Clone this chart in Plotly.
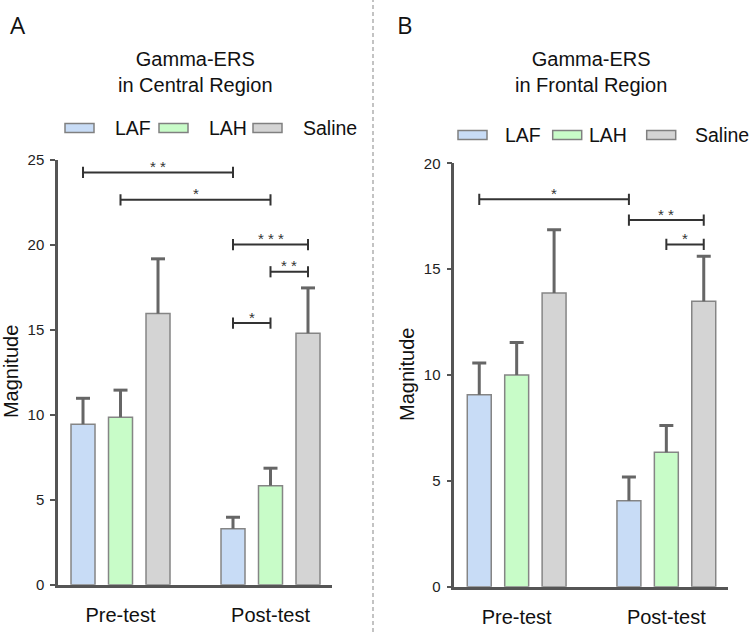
import plotly.graph_objects as go

W, H = 749, 632

groups = ["Pre-test", "Post-test"]
series = ["LAF", "LAH", "Saline"]
colors = ["#c8dcf6", "#c8fcc8", "#d4d4d4"]

# Panel A: Gamma-ERS in Central Region (mean, SEM)
a_laf_mean = [9.44, 3.29]
a_lah_mean = [9.85, 5.82]
a_sal_mean = [15.94, 14.79]
a_laf_err = [1.52, 0.67]
a_lah_err = [1.59, 1.03]
a_sal_err = [3.22, 2.66]

# Panel B: Gamma-ERS in Frontal Region (mean, SEM)
b_laf_mean = [9.07, 4.06]
b_lah_mean = [10.00, 6.35]
b_sal_mean = [13.87, 13.48]
b_laf_err = [1.50, 1.12]
b_lah_err = [1.53, 1.26]
b_sal_err = [2.99, 2.13]

# significance brackets: (series1, group1, series2, group2, height, label)
a_sig = [
    ("LAF", "Pre-test", "LAF", "Post-test", 24.24, "* *"),
    ("LAH", "Pre-test", "LAH", "Post-test", 22.63, "*"),
    ("LAF", "Post-test", "Saline", "Post-test", 20.0, "* * *"),
    ("LAH", "Post-test", "Saline", "Post-test", 18.4, "* *"),
    ("LAF", "Post-test", "LAH", "Post-test", 15.38, "*"),
]
b_sig = [
    ("LAF", "Pre-test", "LAF", "Post-test", 18.3, "*"),
    ("LAF", "Post-test", "Saline", "Post-test", 17.32, "* *"),
    ("LAH", "Post-test", "Saline", "Post-test", 16.17, "*"),
]

titles = ["Gamma-ERS<br>in Central Region", "Gamma-ERS<br>in Frontal Region"]
y_max = [25, 20]
y_ticks = [[0, 5, 10, 15, 20, 25], [0, 5, 10, 15, 20]]

GROUP_POS = {"Pre-test": 0, "Post-test": 4}
SER_OFF = {"LAF": -1, "LAH": 0, "Saline": 1}


def xpos(s, g):
    return GROUP_POS[g] + SER_OFF[s]


def px(x):
    return x / W


def py(y):
    return 1 - y / H


FONT = "Liberation Sans, Arial, sans-serif"
AX = "#555555"
ERRC = "#666666"

fig = go.Figure()

panels = [
    dict(means=[a_laf_mean, a_lah_mean, a_sal_mean], errs=[a_laf_err, a_lah_err, a_sal_err],
         sig=a_sig, xd=[58, 332], yd=[584.7, 159.5], xa="x", ya="y",
         title_c=195, leg_y=128, leg_x=[65, 159, 253], leg_tx=[113, 207, 301],
         letter="A", letter_x=18, ytitle_x=11),
    dict(means=[b_laf_mean, b_lah_mean, b_sal_mean], errs=[b_laf_err, b_lah_err, b_sal_err],
         sig=b_sig, xd=[454.3, 727.7], yd=[586.7, 163.3], xa="x2", ya="y2",
         title_c=591, leg_y=135, leg_x=[458, 552.7, 646.7], leg_tx=[503, 587, 693],
         letter="B", letter_x=405, ytitle_x=407),
]

annotations = []
shapes = []

for pi, p in enumerate(panels):
    for si, s in enumerate(series):
        xs = [xpos(s, g) for g in groups]
        fig.add_trace(go.Bar(
            x=xs, y=p["means"][si],
            width=0.64, marker=dict(color=colors[si], line=dict(color="#858585", width=1.5)),
            error_y=dict(type="data", array=p["errs"][si], arrayminus=[0, 0], symmetric=False,
                         color=ERRC, thickness=3, width=0),
            xaxis=p["xa"], yaxis=p["ya"], showlegend=False, name=s,
        ))
        # error-bar caps
        fig.add_trace(go.Scatter(
            x=xs, y=[m + e for m, e in zip(p["means"][si], p["errs"][si])], mode="markers",
            marker=dict(symbol="line-ew", size=10, line=dict(color=ERRC, width=3)),
            xaxis=p["xa"], yaxis=p["ya"], showlegend=False, hoverinfo="skip",
        ))
    for (s1, g1, s2, g2, h, lab) in p["sig"]:
        x1, x2 = xpos(s1, g1), xpos(s2, g2)
        fig.add_trace(go.Scatter(
            x=[x1, x2], y=[h, h], mode="lines+markers",
            line=dict(color="#333333", width=2),
            marker=dict(symbol="line-ns", size=8, line=dict(color="#333333", width=2)),
            xaxis=p["xa"], yaxis=p["ya"], showlegend=False, hoverinfo="skip",
        ))
        annotations.append(dict(
            x=(x1 + x2) / 2, y=h, xref=p["xa"], yref=p["ya"], text=lab, showarrow=False,
            yanchor="middle", yshift=6, font=dict(size=15, color="#333333", family=FONT),
        ))
    # title
    annotations.append(dict(x=px(p["title_c"]), y=py(72), xref="paper", yref="paper",
                            text=titles[pi], showarrow=False, xanchor="center", yanchor="middle",
                            font=dict(size=20, color="#111111", family=FONT)))
    # panel letter
    annotations.append(dict(x=px(p["letter_x"]), y=py(25), xref="paper", yref="paper",
                            text=p["letter"], showarrow=False, xanchor="center", yanchor="middle",
                            font=dict(size=24, color="#111111", family="Open Sans, sans-serif")))
    # y-axis title
    annotations.append(dict(x=px(p["ytitle_x"]), y=(py(p["yd"][0]) + py(p["yd"][1])) / 2,
                            xref="paper", yref="paper", text="Magnitude", textangle=-90,
                            showarrow=False, xanchor="center", yanchor="middle",
                            font=dict(size=20, color="#111111", family=FONT)))
    # manual legend
    for si, s in enumerate(series):
        lx = p["leg_x"][si]
        ly = p["leg_y"]
        shapes.append(dict(type="rect", xref="paper", yref="paper",
                           x0=px(lx), x1=px(lx + 29), y0=py(ly - 4.5), y1=py(ly + 4.5),
                           fillcolor=colors[si], line=dict(color="#808080", width=1.5)))
        annotations.append(dict(x=px(p["leg_tx"][si]), y=py(ly), xref="paper", yref="paper",
                                text=s, showarrow=False, xanchor="left", yanchor="middle",
                                font=dict(size=19.5, color="#111111", family=FONT)))

# dashed separator
shapes.append(dict(type="line", xref="paper", yref="paper", x0=px(373), x1=px(373), y0=0, y1=1,
                   line=dict(color="#b0b0b0", width=1.5, dash="4px,3px")))

xaxis_common = dict(range=[-1.667, 5.64], tickvals=[GROUP_POS[g] for g in groups], ticktext=groups,
                    showline=True, linecolor=AX, linewidth=2.5, ticks="", showgrid=False,
                    zeroline=False, ticklabelstandoff=11,
                    tickfont=dict(size=20, color="#111111", family=FONT), fixedrange=True)

def yaxis_common(i):
    return dict(range=[0, y_max[i]], tickvals=y_ticks[i], showline=True, linecolor=AX, linewidth=2.5,
                ticks="outside", ticklen=5, tickwidth=2, tickcolor=AX, showgrid=False, zeroline=False,
                ticklabelstandoff=3, tickfont=dict(size=15, color="#222222", family=FONT))

p0, p1 = panels
fig.update_layout(
    width=W, height=H, margin=dict(l=0, r=0, t=0, b=0, autoexpand=False),
    paper_bgcolor="white", plot_bgcolor="white",
    barmode="overlay", showlegend=False,
    xaxis=dict(domain=[px(p0["xd"][0]), px(p0["xd"][1])], anchor="y", **xaxis_common),
    yaxis=dict(domain=[py(p0["yd"][0]), py(p0["yd"][1])], anchor="x", **yaxis_common(0)),
    xaxis2=dict(domain=[px(p1["xd"][0]), px(p1["xd"][1])], anchor="y2", **xaxis_common),
    yaxis2=dict(domain=[py(p1["yd"][0]), py(p1["yd"][1])], anchor="x2", **yaxis_common(1)),
    annotations=annotations, shapes=shapes,
    font=dict(family=FONT),
)

fig.write_html("out.html", config={"displayModeBar": False},
               post_script="document.body.style.margin='0';document.body.style.overflow='hidden';")
